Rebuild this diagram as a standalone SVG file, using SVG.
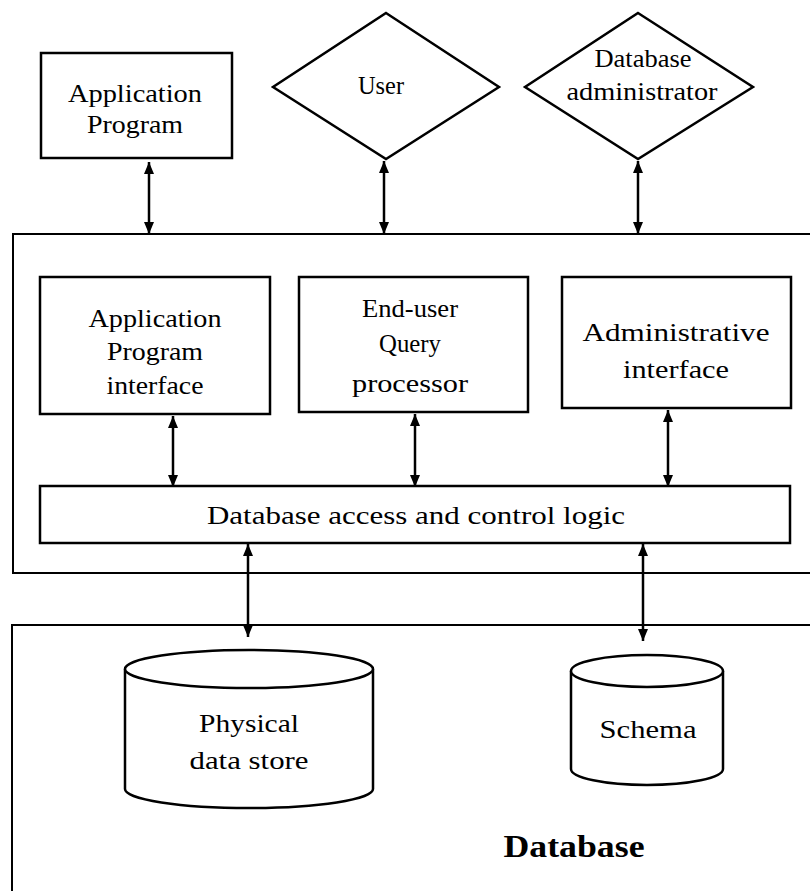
<svg xmlns="http://www.w3.org/2000/svg" width="810" height="891" viewBox="0 0 810 891">
<defs>
<style>
.b{fill:#fff;stroke:#000;stroke-width:2.5}
.c{fill:none;stroke:#000;stroke-width:2}
.t{font-family:"Liberation Serif","Times New Roman",serif;font-size:26px;fill:#000;text-anchor:middle}
.bold{font-weight:bold;font-size:32px}
.a{stroke:#000;stroke-width:2.5;fill:none;marker-start:url(#ah);marker-end:url(#ah)}
</style>
<marker id="ah" viewBox="0 0 12 10" refX="12" refY="5" markerWidth="13" markerHeight="10" markerUnits="userSpaceOnUse" orient="auto-start-reverse">
<path d="M0,0 L12,5 L0,10 z" fill="#000"/>
</marker>
</defs>
<rect width="810" height="891" fill="#fff"/>

<g id="containers">
<path class="c" d="M815,234 H13 V573 H815"/>
<path class="c" d="M815,625 H12 V895"/>
</g>

<g id="app-program">
<rect class="b" x="41" y="53" width="191" height="105"/>
<text class="t" x="135" y="102" textLength="134" lengthAdjust="spacingAndGlyphs">Application</text>
<text class="t" x="135" y="133" textLength="96" lengthAdjust="spacingAndGlyphs">Program</text>
</g>

<g id="user">
<polygon class="b" points="386,13 499,87 386,159 273,87"/>
<text class="t" x="381" y="94" textLength="46" lengthAdjust="spacingAndGlyphs">User</text>
</g>

<g id="dba">
<polygon class="b" points="638,13 753,87 638,159 525,87"/>
<text class="t" x="643" y="67" textLength="97" lengthAdjust="spacingAndGlyphs">Database</text>
<text class="t" x="642" y="100" textLength="151" lengthAdjust="spacingAndGlyphs">administrator</text>
</g>

<g id="api">
<rect class="b" x="40" y="277" width="230" height="137"/>
<text class="t" x="155" y="327" textLength="133" lengthAdjust="spacingAndGlyphs">Application</text>
<text class="t" x="155" y="360" textLength="96" lengthAdjust="spacingAndGlyphs">Program</text>
<text class="t" x="155" y="394" textLength="97" lengthAdjust="spacingAndGlyphs">interface</text>
</g>

<g id="query">
<rect class="b" x="299" y="277" width="229" height="135"/>
<text class="t" x="410" y="317" textLength="96" lengthAdjust="spacingAndGlyphs">End-user</text>
<text class="t" x="410" y="352" textLength="62" lengthAdjust="spacingAndGlyphs">Query</text>
<text class="t" x="410" y="392" textLength="116" lengthAdjust="spacingAndGlyphs">processor</text>
</g>

<g id="admin">
<rect class="b" x="562" y="277" width="229" height="131"/>
<text class="t" x="676" y="341" textLength="187" lengthAdjust="spacingAndGlyphs">Administrative</text>
<text class="t" x="676" y="378" textLength="106" lengthAdjust="spacingAndGlyphs">interface</text>
</g>

<g id="access">
<rect class="b" x="40" y="486" width="750" height="57"/>
<text class="t" x="416" y="524" textLength="418" lengthAdjust="spacingAndGlyphs">Database access and control logic</text>
</g>

<g id="physical">
<path class="b" d="M125,669 V789 A124,19 0 0 0 373,789 V669"/>
<ellipse class="b" cx="249" cy="669" rx="124" ry="19"/>
<text class="t" x="249" y="732" textLength="100" lengthAdjust="spacingAndGlyphs">Physical</text>
<text class="t" x="249" y="769" textLength="119" lengthAdjust="spacingAndGlyphs">data store</text>
</g>

<g id="schema">
<path class="b" d="M571,671 V769 A76,16 0 0 0 723,769 V671"/>
<ellipse class="b" cx="647" cy="671" rx="76" ry="16"/>
<text class="t" x="648" y="738" textLength="97" lengthAdjust="spacingAndGlyphs">Schema</text>
</g>

<g id="database-label">
<text class="t bold" x="574" y="857" textLength="141" lengthAdjust="spacingAndGlyphs">Database</text>
</g>

<g id="connectors">
<line class="a" x1="149" y1="162" x2="149" y2="234"/>
<line class="a" x1="384" y1="161" x2="384" y2="234"/>
<line class="a" x1="638" y1="161" x2="638" y2="234"/>
<line class="a" x1="173" y1="416" x2="173" y2="487"/>
<line class="a" x1="415" y1="414" x2="415" y2="487"/>
<line class="a" x1="668" y1="410" x2="668" y2="487"/>
<line class="a" x1="248" y1="544" x2="248" y2="637"/>
<line class="a" x1="643" y1="544" x2="643" y2="641"/>
</g>
</svg>
